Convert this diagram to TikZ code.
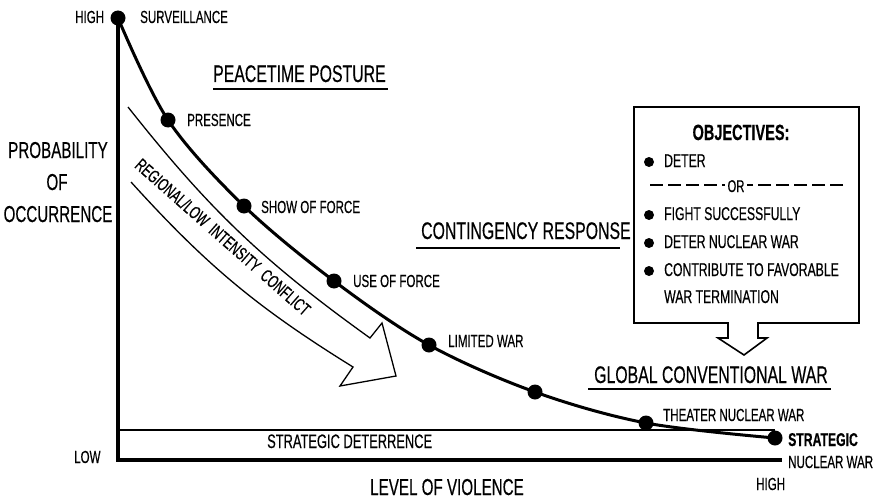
\documentclass[tikz,border=0pt]{standalone}
\usepackage{fontspec}
\setmainfont{Liberation Sans}[FakeStretch=0.66, FakeBold=0.4]
\usetikzlibrary{arrows.meta}
\begin{document}
\begin{tikzpicture}[x=1pt,y=-1pt,
  lbl/.style={font=\fontsize{17.5}{17.5}\selectfont, anchor=base west, inner sep=0pt},
  head/.style={font=\fontsize{24}{24}\selectfont, anchor=base west, inner sep=0pt},
  obj/.style={font=\fontsize{18.5}{18.5}\selectfont, anchor=base west, inner sep=0pt},
  ttl/.style={font=\fontsize{23}{23}\selectfont, anchor=base, inner sep=0pt},
  dot/.style={circle, fill=black, minimum size=15pt, inner sep=0pt},
  bul/.style={circle, fill=black, minimum size=10pt, inner sep=0pt},
  uline/.style={line width=1.8pt},
  axis/.style={line width=4pt},
  thin/.style={line width=1.4pt},
  curve/.style={line width=3pt}]
\useasboundingbox (0,0) rectangle (882,500);

% axes
\draw[axis] (118,18) -- (118,460) -- (782,460);
\draw[thin] (118,430) -- (775,430);

% curve points
\node[dot] (d1) at (118,18) {};
\node[dot] (d2) at (168,120) {};
\node[dot] (d3) at (244,206) {};
\node[dot] (d4) at (334,281) {};
\node[dot] (d5) at (429,345) {};
\node[dot] (d6) at (535,392) {};
\node[dot] (d7) at (646,423) {};
\node[dot] (d8) at (775,438) {};
\draw[curve] plot[smooth, tension=0.55] coordinates {(d1.center) (d2.center) (d3.center) (d4.center) (d5.center) (d6.center) (d7.center) (d8.center)};

% labels
\node[lbl] (high1) at (75,23) {HIGH};
\node[lbl] (surv) at (140,23) {SURVEILLANCE};
\node[lbl] (pres) at (187,126) {PRESENCE};
\node[lbl] (show) at (261,213) {SHOW OF FORCE};
\node[lbl] (use) at (353,287) {USE OF FORCE};
\node[lbl] (lim) at (448,347) {LIMITED WAR};
\node[lbl] (thea) at (663,421) {THEATER NUCLEAR WAR};
\node[lbl, font=\fontsize{18.5}{18.5}\selectfont\bfseries] (strat) at (788,446) {STRATEGIC};
\node[lbl] (nuc) at (788,468) {NUCLEAR WAR};
\node[lbl] (high2) at (756,490) {HIGH};
\node[lbl] (low) at (74,463) {LOW};
\node[lbl, font=\fontsize{19.5}{19.5}\selectfont] (sd) at (267,448) {STRATEGIC DETERRENCE};

% axis titles
\node[ttl] (lov) at (447,495) {LEVEL OF VIOLENCE};
\node[ttl] (prob1) at (58,158) {PROBABILITY};
\node[ttl] (prob2) at (57,190) {OF};
\node[ttl] (prob3) at (58,222) {OCCURRENCE};

% headings
\node[head] (pp) at (213,82) {PEACETIME POSTURE};
\draw[uline] (213,89) -- (388,89);
\node[head] (cr) at (421,239) {CONTINGENCY RESPONSE};
\draw[uline] (416,248) -- (620,248);
\node[head] (gcw) at (594,383) {GLOBAL CONVENTIONAL WAR};
\draw[uline] (588,389) -- (831,389);

% big arrow
\draw[line width=1.3pt, line join=miter] (128,107) to[bend right=8] (370,338) -- (382,323) -- (396,376) -- (340,386) -- (353,367) to[bend left=8] (131,182);
\node[font=\fontsize{18}{18}\selectfont, rotate=-41.4, inner sep=0pt] (ric) at (223,237) {REGIONAL/LOW\ \ INTENSITY\ \ CONFLICT};

% objectives box
\draw[line width=1.6pt, line join=miter] (634,107) -- (859,107) -- (859,323) -- (758,323) -- (758,338) -- (767,338) -- (744,355) -- (718,338) -- (728,338) -- (728,323) -- (634,323) -- cycle;
\node[font=\fontsize{22}{22}\selectfont\bfseries, anchor=base, inner sep=0pt] (objh) at (741,140) {OBJECTIVES:};
\node[bul] (b1) at (649,162) {};
\node[obj] (o1) at (664,167) {DETER};
\node[font=\fontsize{17}{17}\selectfont, anchor=base, inner sep=0pt] (or) at (736,192) {OR};
\draw[line width=1.6pt, dash pattern=on 13pt off 5pt] (650,185) -- ([xshift=-2pt]or.west |- 0,185);
\draw[line width=1.6pt, dash pattern=on 13pt off 5pt] (843,185) -- ([xshift=2pt]or.east |- 0,185);
\node[bul] (b2) at (649,215) {};
\node[obj] (o2) at (664,220) {FIGHT SUCCESSFULLY};
\node[bul] (b3) at (649,243) {};
\node[obj] (o3) at (664,248) {DETER NUCLEAR WAR};
\node[bul] (b4) at (649,271) {};
\node[obj] (o4) at (664,276) {CONTRIBUTE TO FAVORABLE};
\node[obj] (o5) at (664,303) {WAR TERMINATION};
\end{tikzpicture}
\end{document}
